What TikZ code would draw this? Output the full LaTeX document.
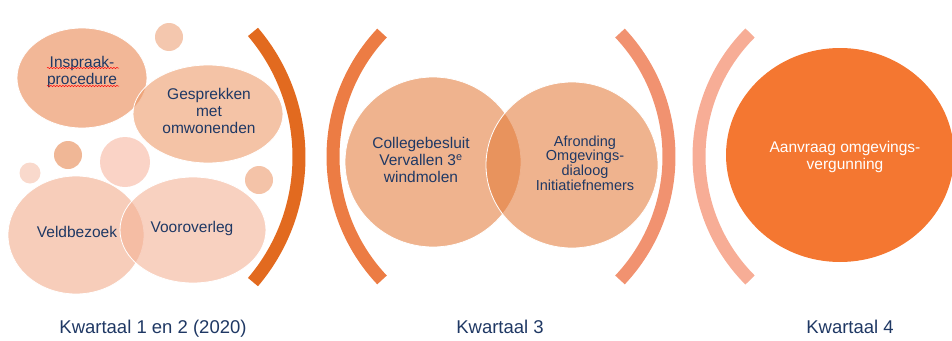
\documentclass[tikz,border=0pt]{standalone}
\usepackage{fontspec}
\setmainfont{Liberation Sans}
\usetikzlibrary{decorations.pathmorphing}

\definecolor{navytext}{RGB}{31,56,100}
\definecolor{bracketA}{RGB}{226,106,31}
\definecolor{bracketB}{RGB}{236,124,68}
\definecolor{bracketC}{RGB}{241,146,112}
\definecolor{bracketD}{RGB}{247,173,150}
\definecolor{inspraakfill}{RGB}{233,135,82}
\definecolor{gesprekfill}{RGB}{237,155,107}
\definecolor{veldfill}{RGB}{241,172,140}
\definecolor{overlegfill}{RGB}{244,178,150}
\definecolor{midfill}{RGB}{227,122,57}
\definecolor{aanvraagfill}{RGB}{244,119,49}

\begin{document}
\begin{tikzpicture}[x=1pt,y=1pt,yscale=-1,xscale=1,
  bubble/.style={draw=white, line width=0.8pt, fill opacity=0.6},
  midbubble/.style={draw=white, line width=0.8pt, fill=midfill, fill opacity=0.57},
  bracket/.style={line width=13pt},
  intext/.style={inner sep=0.75pt, align=center, text=navytext, font=\fontsize{15.5}{17}\selectfont},
  kwartaal/.style={inner sep=0.75pt, anchor=base, text=navytext, font=\fontsize{18.5}{20}\selectfont},
  squiggle/.style={red, line width=0.5pt, decorate, decoration={snake, amplitude=0.6pt, segment length=3pt}}
]
\path[use as bounding box] (0,0) rectangle (952,340);

%Small circles
\fill [color={rgb,255:red,244;green,199;blue,174}] (169,37) circle [radius=14];
\fill [color={rgb,255:red,240;green,183;blue,150}] (68,155) circle [radius=14];
\fill [color={rgb,255:red,249;green,217;blue,204}] (30,173) circle [radius=10.5];
\fill [color={rgb,255:red,250;green,211;blue,198}] (125,162) circle [radius=25];
\fill [color={rgb,255:red,244;green,195;blue,168}] (259,180) circle [radius=14];

%Ellipses quarter 1 and 2
\draw [bubble, fill=inspraakfill] (82,78) ellipse [x radius=65, y radius=50];
\draw [bubble, fill=gesprekfill] (208,114) ellipse [x radius=75, y radius=49];
\draw [bubble, fill=veldfill] (76,235) ellipse [x radius=68, y radius=59];
\draw [bubble, fill=overlegfill] (193,230) ellipse [x radius=73, y radius=53];

%Ellipses quarter 3
\draw [midbubble] (433,162) ellipse [x radius=88, y radius=85];
\draw [midbubble] (572,165) ellipse [x radius=86, y radius=83];

%Ellipse quarter 4
\fill [aanvraagfill] (840,155) ellipse [x radius=114, y radius=107];

%Brackets
\draw [bracket, bracketA] (106,157) ++(40.4:193) arc [start angle=40.4, end angle=-40.4, radius=193];
\draw [bracket, bracketB] (513,156.5) ++(136.7:180) arc [start angle=136.7, end angle=223.3, radius=180];
\draw [bracket, bracketC] (489,156.5) ++(43.3:180) arc [start angle=43.3, end angle=-43.3, radius=180];
\draw [bracket, bracketD] (874,156.5) ++(135.1:175) arc [start angle=135.1, end angle=224.9, radius=175];

% Text Node
\draw (82,72) node (inspraak) [intext] {Inspraak-\\procedure};
\draw [squiggle] (47,68) -- (119,68);
\draw [squiggle] (47,86) -- (119,86);
% Text Node
\draw (209,111) node (gesprekken) [intext] {Gesprekken\\met\\omwonenden};
% Text Node
\draw (77,232) node (veldbezoek) [intext] {Veldbezoek};
% Text Node
\draw (192,228) node (vooroverleg) [intext] {Vooroverleg};
% Text Node
\draw (421,160) node (college) [intext] {Collegebesluit\\Vervallen 3\textsuperscript{e}\\windmolen};
% Text Node
\draw (585,163) node (afronding) [intext, font=\fontsize{14.5}{14.7}\selectfont] {Afronding\\Omgevings-\\dialoog\\Initiatiefnemers};
% Text Node
\draw (845,157) node (aanvraag) [intext, text=white] {Aanvraag omgevings-\\vergunning};

% Text Node
\draw (153,333) node (kwartaalA) [kwartaal] {Kwartaal 1 en 2 (2020)};
% Text Node
\draw (500,333) node (kwartaalB) [kwartaal] {Kwartaal 3};
% Text Node
\draw (850,333) node (kwartaalC) [kwartaal] {Kwartaal 4};

\end{tikzpicture}
\end{document}
